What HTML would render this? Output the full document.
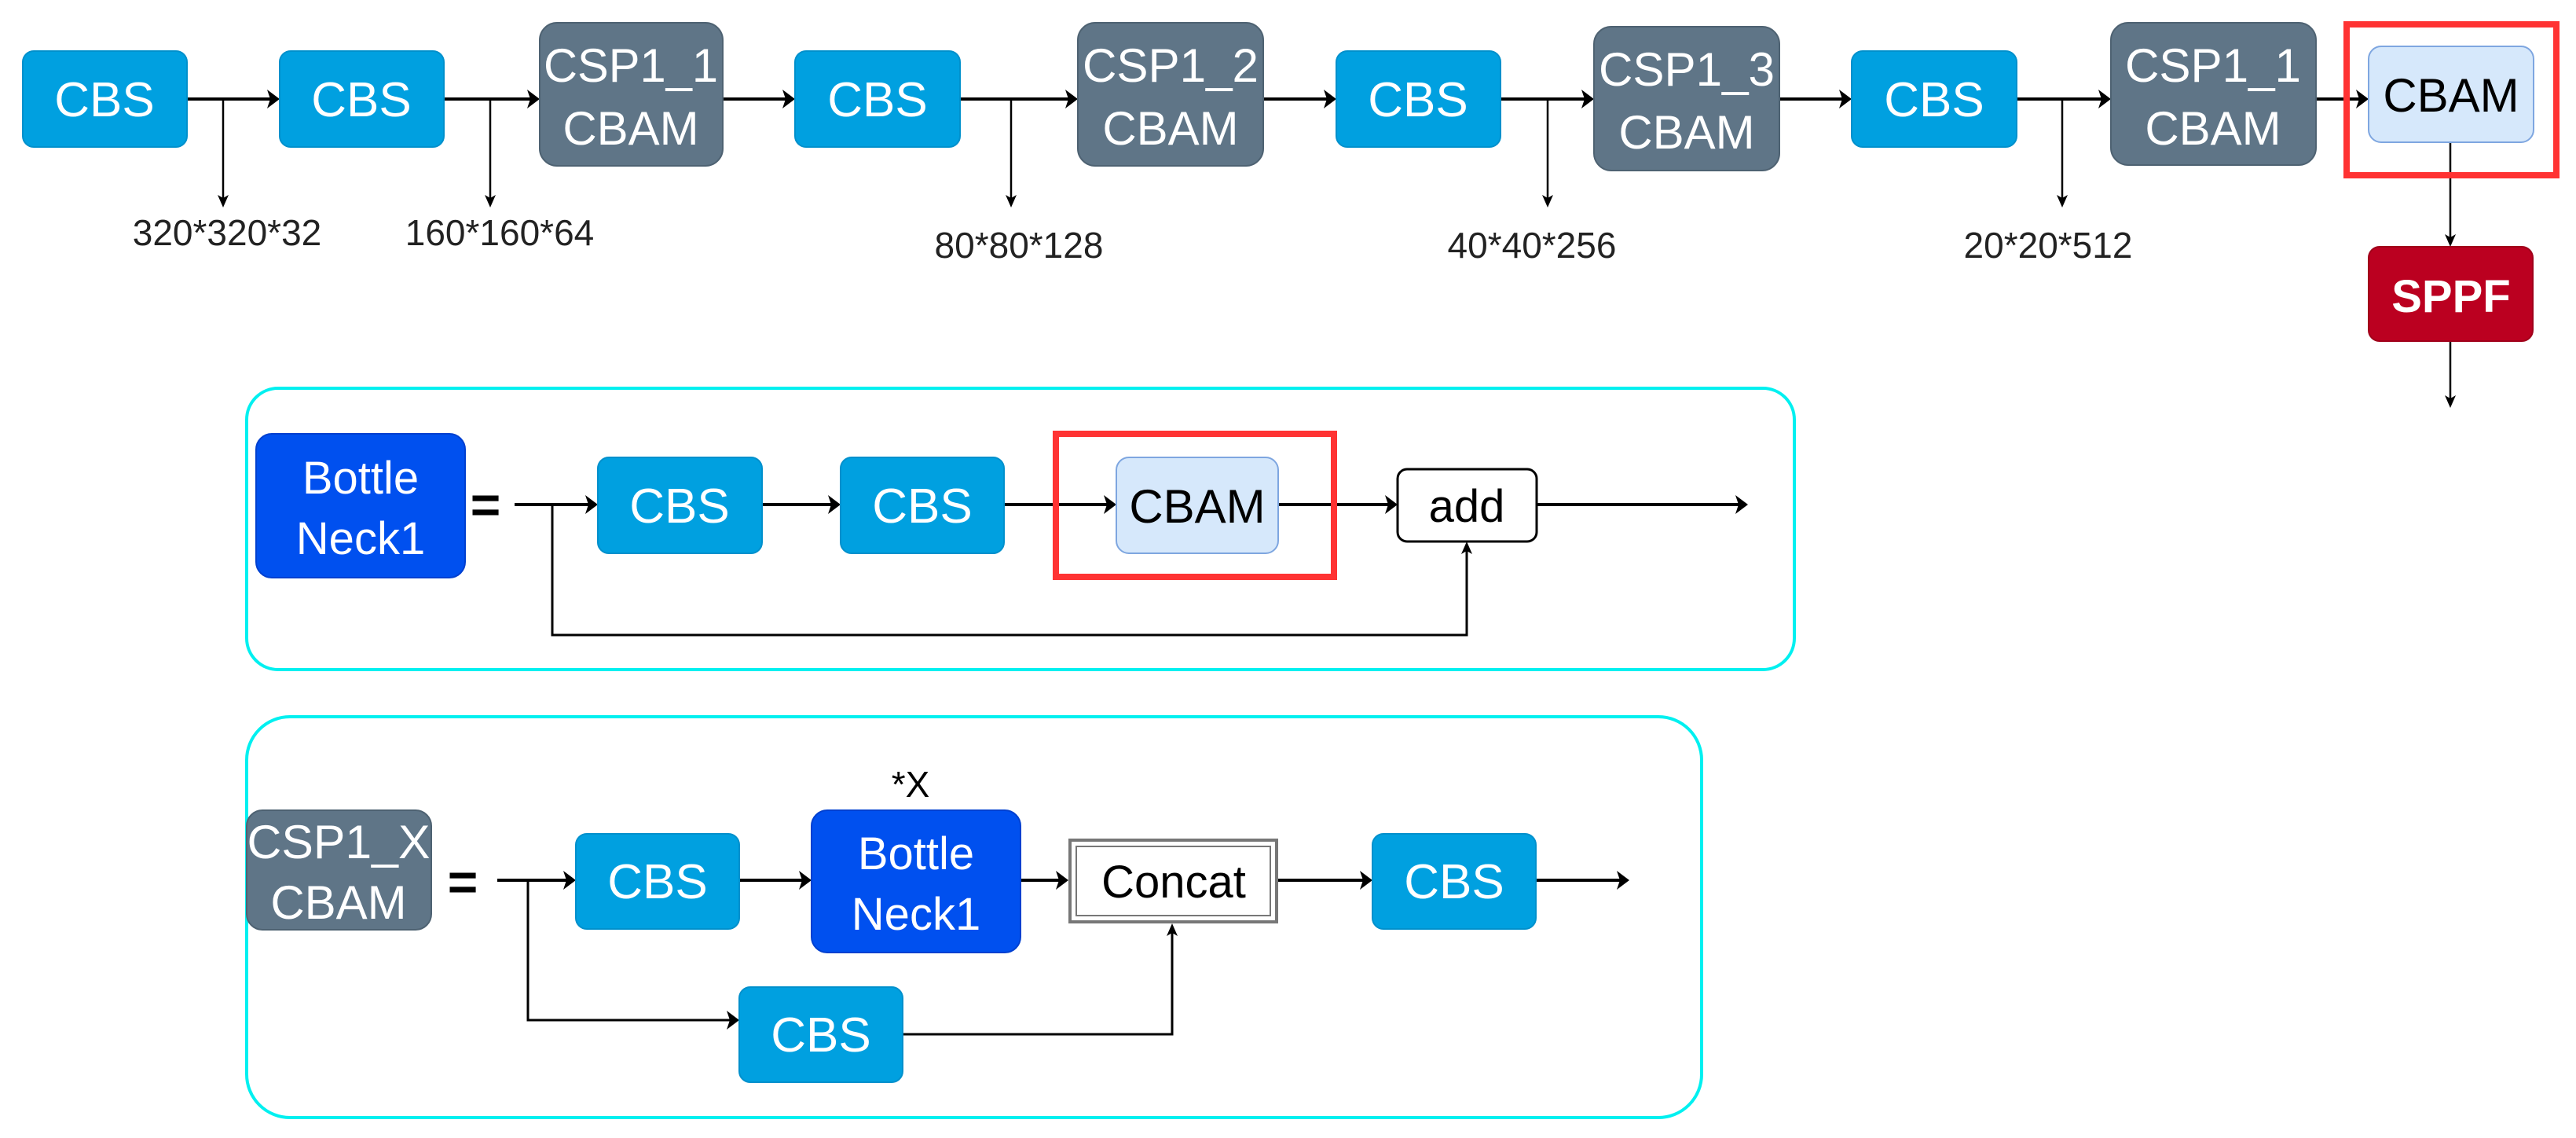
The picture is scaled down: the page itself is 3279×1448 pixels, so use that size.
<!DOCTYPE html>
<html><head><meta charset="utf-8"><style>
html,body{margin:0;padding:0;background:#fff;}
svg{display:block;}
text{font-family:"Liberation Sans",sans-serif;}
</style></head><body>
<svg width="3279" height="1448" viewBox="0 0 3279 1448" xmlns="http://www.w3.org/2000/svg">
<g stroke="#000" fill="none">
<g stroke-width="4">
<line x1="238" y1="126" x2="346" y2="126"/>
<line x1="565" y1="126" x2="677" y2="126"/>
<line x1="920" y1="126" x2="1002" y2="126"/>
<line x1="1222" y1="126" x2="1362" y2="126"/>
<line x1="1608" y1="126" x2="1691" y2="126"/>
<line x1="1910" y1="126" x2="2019" y2="126"/>
<line x1="2265" y1="126" x2="2347" y2="126"/>
<line x1="2567" y1="126" x2="2677" y2="126"/>
<line x1="2948" y1="126" x2="3005" y2="126"/>
</g>
<g stroke-width="2.5">
<line x1="284" y1="126" x2="284" y2="252"/>
<line x1="624" y1="126" x2="624" y2="252"/>
<line x1="1287" y1="126" x2="1287" y2="252"/>
<line x1="1970" y1="126" x2="1970" y2="252"/>
<line x1="2625" y1="126" x2="2625" y2="252"/>
<line x1="3119" y1="181" x2="3119" y2="302"/>
<line x1="3119" y1="434" x2="3119" y2="508"/>
</g>
<g stroke-width="4">
<line x1="655" y1="642" x2="751" y2="642"/>
<line x1="970" y1="642" x2="1060" y2="642"/>
<line x1="1278" y1="642" x2="1411" y2="642"/>
<line x1="1627" y1="642" x2="1769" y2="642"/>
<line x1="1956" y1="642" x2="2215" y2="642"/>
</g>
<polyline stroke-width="3" points="703,642 703,808 1867,808 1867,700"/>
<g stroke-width="4">
<line x1="633" y1="1120" x2="723" y2="1120"/>
<line x1="941" y1="1120" x2="1023" y2="1120"/>
<line x1="1299" y1="1120" x2="1350" y2="1120"/>
<line x1="1627" y1="1120" x2="1737" y2="1120"/>
<line x1="1955" y1="1120" x2="2064" y2="1120"/>
</g>
<polyline stroke-width="3" points="672,1120 672,1298 931,1298"/>
<polyline stroke-width="3" points="1149,1316 1492,1316 1492,1186"/>
</g>
<g fill="#000">
<path d="M356,126 l-16,-12 l4,12 l-4,12z"/>
<path d="M687,126 l-16,-12 l4,12 l-4,12z"/>
<path d="M1012,126 l-16,-12 l4,12 l-4,12z"/>
<path d="M1372,126 l-16,-12 l4,12 l-4,12z"/>
<path d="M1701,126 l-16,-12 l4,12 l-4,12z"/>
<path d="M2029,126 l-16,-12 l4,12 l-4,12z"/>
<path d="M2357,126 l-16,-12 l4,12 l-4,12z"/>
<path d="M2687,126 l-16,-12 l4,12 l-4,12z"/>
<path d="M3015,126 l-16,-12 l4,12 l-4,12z"/>
<path d="M761,642 l-16,-12 l4,12 l-4,12z"/>
<path d="M1070,642 l-16,-12 l4,12 l-4,12z"/>
<path d="M1421,642 l-16,-12 l4,12 l-4,12z"/>
<path d="M1779,642 l-16,-12 l4,12 l-4,12z"/>
<path d="M2225,642 l-16,-12 l4,12 l-4,12z"/>
<path d="M733,1120 l-16,-12 l4,12 l-4,12z"/>
<path d="M1033,1120 l-16,-12 l4,12 l-4,12z"/>
<path d="M1360,1120 l-16,-12 l4,12 l-4,12z"/>
<path d="M1747,1120 l-16,-12 l4,12 l-4,12z"/>
<path d="M2074,1120 l-16,-12 l4,12 l-4,12z"/>
<path d="M941,1298 l-16,-12 l4,12 l-4,12z"/>
<path d="M284,264 l-7,-16 l7,4 l7,-4z"/>
<path d="M624,264 l-7,-16 l7,4 l7,-4z"/>
<path d="M1287,264 l-7,-16 l7,4 l7,-4z"/>
<path d="M1970,264 l-7,-16 l7,4 l7,-4z"/>
<path d="M2625,264 l-7,-16 l7,4 l7,-4z"/>
<path d="M3119,314 l-7,-16 l7,4 l7,-4z"/>
<path d="M3119,519 l-7,-16 l7,4 l7,-4z"/>
<path d="M1867,689 l-7,16 l7,-4 l7,4z"/>
<path d="M1492,1175 l-7,16 l7,-4 l7,4z"/>
</g>

<rect x="314" y="494" width="1970" height="358" rx="40" fill="none" stroke="#00f0f0" stroke-width="4"/>
<rect x="314" y="912" width="1852" height="510" rx="55" fill="none" stroke="#00f0f0" stroke-width="4"/>

<g font-size="62" text-anchor="middle">
<g fill="#00a0e0" stroke="#0090cc" stroke-width="2">
<rect x="29" y="65" width="209" height="122" rx="14"/>
<rect x="356" y="65" width="209" height="122" rx="14"/>
<rect x="1012" y="65" width="210" height="122" rx="14"/>
<rect x="1701" y="65" width="209" height="122" rx="14"/>
<rect x="2357" y="65" width="210" height="122" rx="14"/>
<rect x="761" y="582" width="209" height="122" rx="14"/>
<rect x="1070" y="582" width="208" height="122" rx="14"/>
<rect x="733" y="1061" width="208" height="121" rx="14"/>
<rect x="1747" y="1061" width="208" height="121" rx="14"/>
<rect x="941" y="1256" width="208" height="121" rx="14"/>
</g>
<g fill="#fff">
<text x="133" y="148">CBS</text>
<text x="460" y="148">CBS</text>
<text x="1117" y="148">CBS</text>
<text x="1805" y="148">CBS</text>
<text x="2462" y="148">CBS</text>
<text x="865" y="665">CBS</text>
<text x="1174" y="665">CBS</text>
<text x="837" y="1143">CBS</text>
<text x="1851" y="1143">CBS</text>
<text x="1045" y="1338">CBS</text>
</g>
<g fill="#5f7587" stroke="#4e6272" stroke-width="2">
<rect x="687" y="29" width="233" height="182" rx="22"/>
<rect x="1372" y="29" width="236" height="182" rx="22"/>
<rect x="2029" y="34" width="236" height="183" rx="22"/>
<rect x="2687" y="29" width="261" height="181" rx="22"/>
<rect x="314" y="1031" width="235" height="152" rx="20"/>
</g>
<g fill="#fff" font-size="60">
<text x="803" y="104" textLength="222" lengthAdjust="spacingAndGlyphs">CSP1_1</text><text x="803" y="184">CBAM</text>
<text x="1490" y="104" textLength="224" lengthAdjust="spacingAndGlyphs">CSP1_2</text><text x="1490" y="184">CBAM</text>
<text x="2147" y="109" textLength="224" lengthAdjust="spacingAndGlyphs">CSP1_3</text><text x="2147" y="189">CBAM</text>
<text x="2817" y="104" textLength="224" lengthAdjust="spacingAndGlyphs">CSP1_1</text><text x="2817" y="184">CBAM</text>
<text x="431" y="1092" textLength="233" lengthAdjust="spacingAndGlyphs">CSP1_X</text><text x="431" y="1169">CBAM</text>
</g>
<rect x="2987" y="31" width="267" height="192" fill="none" stroke="#ff3333" stroke-width="8"/>
<rect x="1344" y="552" width="354" height="182" fill="none" stroke="#ff3333" stroke-width="8"/>
<g fill="#d6e8fb" stroke="#7ea6e0" stroke-width="2">
<rect x="3015" y="59" width="210" height="122" rx="16"/>
<rect x="1421" y="582" width="206" height="122" rx="16"/>
</g>
<g fill="#000" font-size="60">
<text x="3120" y="142">CBAM</text>
<text x="1524" y="665">CBAM</text>
</g>
<rect x="3015" y="314" width="209" height="120" rx="14" fill="#bb0020" stroke="#a0001a" stroke-width="2"/>
<text x="3120" y="397" fill="#fff" font-weight="bold" font-size="58">SPPF</text>
<rect x="326" y="552" width="266" height="183" rx="20" fill="#0050ef" stroke="#0040d0" stroke-width="2"/>
<text x="459" y="628" fill="#fff" font-size="58">Bottle</text>
<text x="459" y="705" fill="#fff" font-size="58">Neck1</text>
<rect x="1033" y="1031" width="266" height="181" rx="20" fill="#0050ef" stroke="#0040d0" stroke-width="2"/>
<text x="1166" y="1106" fill="#fff" font-size="58">Bottle</text>
<text x="1166" y="1183" fill="#fff" font-size="58">Neck1</text>
<rect x="1779" y="597" width="177" height="92" rx="12" fill="#fff" stroke="#000" stroke-width="3"/>
<text x="1867" y="664" font-size="58">add</text>
<rect x="1362" y="1069" width="263" height="104" fill="#fff" stroke="#777" stroke-width="4"/>
<rect x="1370" y="1077" width="247" height="88" fill="#fff" stroke="#777" stroke-width="2"/>
<text x="1494" y="1142" font-size="58">Concat</text>
<g font-size="66" font-weight="bold"><text x="618" y="665">=</text><text x="589" y="1145">=</text></g>
<text x="1159" y="1014" font-size="46">*X</text>
<g font-size="46" fill="#222">
<text x="289" y="312">320*320*32</text>
<text x="636" y="312">160*160*64</text>
<text x="1297" y="328">80*80*128</text>
<text x="1950" y="328">40*40*256</text>
<text x="2607" y="328">20*20*512</text>
</g>
</g>
</svg>
</body></html>
